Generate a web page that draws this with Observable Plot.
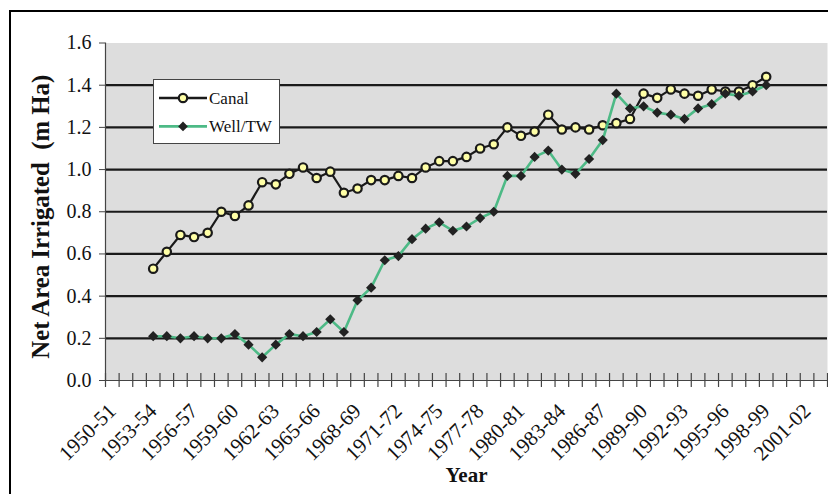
<!DOCTYPE html>
<html><head><meta charset="utf-8">
<script src="https://cdn.jsdelivr.net/npm/d3@7"></script>
<script src="https://cdn.jsdelivr.net/npm/@observablehq/plot@0.6"></script>
<style>
body{margin:0;background:#fff;}
#wrap{position:relative;width:828px;height:494px;overflow:hidden;font-family:"Liberation Serif","Times New Roman",serif;}
#frame{position:absolute;left:9px;top:10px;right:-10px;bottom:-10px;border-left:2.5px solid #000;border-top:2.5px solid #000;pointer-events:none;}
#legend{position:absolute;left:153px;top:79px;}
svg text{white-space:pre;}
</style></head><body>
<div id="wrap"><div id="chart"></div><div id="legend"></div><div id="frame"></div></div>
<script>
// Category axis (financial years)
const years = ["1950-51","1951-52","1952-53","1953-54","1954-55","1955-56","1956-57","1957-58","1958-59","1959-60",
  "1960-61","1961-62","1962-63","1963-64","1964-65","1965-66","1966-67","1967-68","1968-69","1969-70",
  "1970-71","1971-72","1972-73","1973-74","1974-75","1975-76","1976-77","1977-78","1978-79","1979-80",
  "1980-81","1981-82","1982-83","1983-84","1984-85","1985-86","1986-87","1987-88","1988-89","1989-90",
  "1990-91","1991-92","1992-93","1993-94","1994-95","1995-96","1996-97","1997-98","1998-99","1999-00",
  "2000-01","2001-02","2002-03"];
const tickLabels = ["1950-51","1953-54","1956-57","1959-60","1962-63","1965-66","1968-69","1971-72","1974-75",
  "1977-78","1980-81","1983-84","1986-87","1989-90","1992-93","1995-96","1998-99","2001-02"];
const yTicks = [0, 0.2, 0.4, 0.6, 0.8, 1.0, 1.2, 1.4, 1.6];
const gridValues = [0.2, 0.4, 0.6, 0.8, 1.0, 1.2, 1.4];

// Observed years (1953-54 .. 1998-99)
const dataYears = ["1953-54","1954-55","1955-56","1956-57","1957-58","1958-59","1959-60","1960-61","1961-62","1962-63",
  "1963-64","1964-65","1965-66","1966-67","1967-68","1968-69","1969-70","1970-71","1971-72","1972-73",
  "1973-74","1974-75","1975-76","1976-77","1977-78","1978-79","1979-80","1980-81","1981-82","1982-83",
  "1983-84","1984-85","1985-86","1986-87","1987-88","1988-89","1989-90","1990-91","1991-92","1992-93",
  "1993-94","1994-95","1995-96","1996-97","1997-98","1998-99"];
const canal = [0.53,0.61,0.69,0.68,0.70,0.80,0.78,0.83,0.94,0.93,
  0.98,1.01,0.96,0.99,0.89,0.91,0.95,0.95,0.97,0.96,
  1.01,1.04,1.04,1.06,1.10,1.12,1.20,1.16,1.18,1.26,
  1.19,1.20,1.19,1.21,1.22,1.24,1.36,1.34,1.38,1.36,
  1.35,1.38,1.37,1.37,1.40,1.44];
const well = [0.21,0.21,0.20,0.21,0.20,0.20,0.22,0.17,0.11,0.17,
  0.22,0.21,0.23,0.29,0.23,0.38,0.44,0.57,0.59,0.67,
  0.72,0.75,0.71,0.73,0.77,0.80,0.97,0.97,1.06,1.09,
  1.00,0.98,1.05,1.14,1.36,1.29,1.30,1.27,1.26,1.24,
  1.29,1.31,1.36,1.35,1.37,1.40];
const seriesNames = ["Canal", "Well/TW"];
const yTitle = "Net Area Irrigated  (m Ha)";
const xTitle = "Year";

const idx = y => years.indexOf(y);
const canalData = dataYears.map((y, i) => ({x: idx(y), v: canal[i]}));
const wellData = dataYears.map((y, i) => ({x: idx(y), v: well[i]}));
const bounds = years.map((_, i) => i - 0.5).concat([years.length - 0.5]);
const tickIdx = tickLabels.map(idx);

const C_CANAL = "#1a1a1a", C_FILL = "#ffffa6", C_WELL = "#4dba86", C_DIAM = "#222222";
const FONT = '"Liberation Serif","Times New Roman",serif';

const chart = Plot.plot({
  width: 828, height: 494,
  marginLeft: 105, marginRight: 1, marginTop: 42.5, marginBottom: 114,
  x: {domain: [-0.5, years.length - 0.5]},
  y: {domain: [0, 1.6]},
  style: {fontFamily: FONT, color: "#111", background: "transparent"},
  marks: [
    Plot.frame({fill: "#dddddd", stroke: null}),
    Plot.ruleY(gridValues, {stroke: "#1a1a1a", strokeWidth: 2.2}),
    Plot.ruleY([0], {stroke: "#444", strokeWidth: 1.2}),
    Plot.ruleX([-0.5], {y1: 0, y2: 1.6, stroke: "#444", strokeWidth: 1.2}),
    Plot.ruleX(bounds, {x: d => d, y1: 0, y2: 0, insetTop: -7, insetBottom: -7, stroke: "#444", strokeWidth: 1.2}),
    Plot.axisY({ticks: yTicks, tickFormat: d => d.toFixed(1), tickSize: 6, tickPadding: 8, fontSize: 20, label: null, stroke: "#444"}),
    Plot.axisX({ticks: tickIdx, tickFormat: i => years[i], tickSize: 0, tickRotate: -45, tickPadding: 27, dx: 0, fontSize: 21, label: null}),
    Plot.line(canalData, {x: "x", y: "v", stroke: C_CANAL, strokeWidth: 2.2}),
    Plot.dot(canalData, {x: "x", y: "v", r: 4.2, fill: C_FILL, stroke: C_CANAL, strokeWidth: 2.2}),
    Plot.line(wellData, {x: "x", y: "v", stroke: C_WELL, strokeWidth: 2.6}),
    Plot.dot(wellData, {x: "x", y: "v", symbol: "diamond2", r: 4.6, fill: C_DIAM, stroke: null}),
    Plot.text([xTitle], {frameAnchor: "bottom", dy: 101, fontSize: 21, fontWeight: "bold", fill: "#111"}),
    Plot.text([yTitle], {frameAnchor: "left", textAnchor: "middle", rotate: -90, dx: -64, dy: 5, fontSize: 24.8, fontWeight: "bold", fill: "#111"})
  ]
});
document.getElementById("chart").appendChild(chart);

// Legend (inside the plot area, top-left)
const lg = d3.select("#legend").append("svg").attr("width", 128).attr("height", 66)
  .style("font-family", FONT);
lg.append("rect").attr("x", 0.5).attr("y", 0.5).attr("width", 126).attr("height", 64)
  .attr("fill", "#fff").attr("stroke", "#444");
const rows = seriesNames.map((name, i) => ({name, i}));
const g = lg.selectAll("g.row").data(rows).join("g").attr("transform", d => `translate(0,${19 + d.i * 28.4})`);
g.append("line").attr("x1", 6).attr("x2", 54).attr("y1", 0).attr("y2", 0)
  .attr("stroke", d => d.i === 0 ? C_CANAL : C_WELL).attr("stroke-width", d => d.i === 0 ? 2.4 : 2.8);
g.filter(d => d.i === 0).append("circle").attr("cx", 30).attr("cy", 0).attr("r", 4.2)
  .attr("fill", C_FILL).attr("stroke", C_CANAL).attr("stroke-width", 2.2);
g.filter(d => d.i === 1).append("path").attr("d", d3.symbol(d3.symbolDiamond2, 60)())
  .attr("transform", "translate(30,0)").attr("fill", C_DIAM);
g.append("text").attr("x", 56).attr("y", 0).attr("dy", "0.35em").attr("font-size", 17).attr("fill", "#111")
  .text(d => d.name);
</script>
</body></html>
